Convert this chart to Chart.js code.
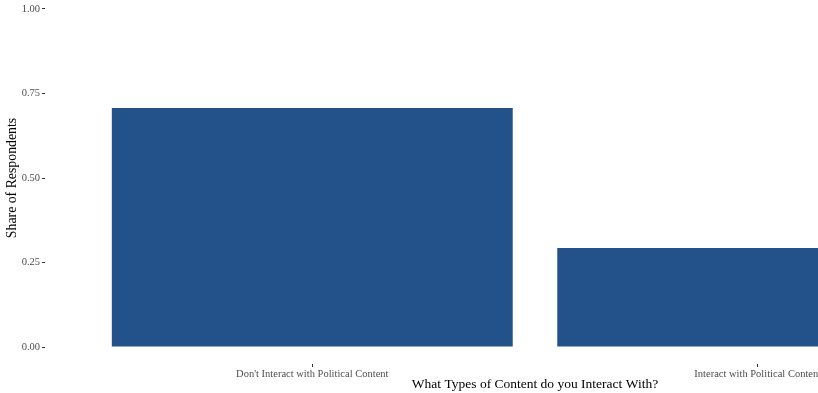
<!DOCTYPE html>
<html>
<head>
<meta charset="utf-8">
<script src="https://cdn.jsdelivr.net/npm/chart.js@4/dist/chart.umd.min.js"></script>
<style>
  html, body { margin: 0; padding: 0; background: #fff; overflow: hidden; }
  body { width: 818px; height: 393px; position: relative; }
  #wrap { position: absolute; left: 0; top: -8px; }
</style>
</head>
<body>
<div id="wrap"><canvas id="share-chart" width="1025" height="401"></canvas></div>
<script>
// Survey shares
const categories = ["Don't Interact with Political Content", "Interact with Political Content"];
const shares = [0.707, 0.293];
const catPositions = [1, 2];
const yTicks = [0, 0.25, 0.5, 0.75, 1];

const SERIF = "'Liberation Serif', 'Times New Roman', serif";
const BAR_COLOR = "#235189";

document.addEventListener("DOMContentLoaded", () => {
  const ctx = document.getElementById("share-chart").getContext("2d");

  new Chart(ctx, {
    type: "bar",
    data: {
      datasets: [{
        data: categories.map((c, i) => ({ x: catPositions[i], y: shares[i] })),
        backgroundColor: BAR_COLOR,
        borderWidth: 0,
        barPercentage: 0.9,
        categoryPercentage: 1
      }]
    },
    options: {
      responsive: false,
      devicePixelRatio: 1,
      animation: false,
      layout: { padding: 0 },
      plugins: {
        legend: { display: false },
        tooltip: { enabled: false }
      },
      scales: {
        x: {
          type: "linear",
          offset: false,
          min: 0.4,
          max: 2.6,
          afterBuildTicks: (scale) => { scale.ticks = catPositions.map(v => ({ value: v })); },
          afterFit: (scale) => {
            scale.height = 29;
            scale.paddingLeft = 0;
            scale.paddingRight = 0;
          },
          grid: { display: true, offset: false, drawOnChartArea: false, drawTicks: true, tickLength: 3, color: "#333" },
          border: { display: false },
          ticks: {
            autoSkip: false,
            maxRotation: 0,
            padding: 1,
            color: "#4d4d4d",
            font: { family: SERIF, size: 10.5 },
            callback: (v, i) => categories[i]
          },
          title: {
            display: true,
            text: "What Types of Content do you Interact With?",
            color: "#000",
            font: { family: SERIF, size: 13.5 },
            padding: { top: 0, bottom: 0 }
          }
        },
        y: {
          min: -0.05,
          max: 1.05,
          afterBuildTicks: (scale) => { scale.ticks = yTicks.map(v => ({ value: v })); },
          afterFit: (scale) => {
            scale.width = 45;
            scale.paddingTop = 0;
            scale.paddingBottom = 0;
          },
          grid: { display: true, drawOnChartArea: false, drawTicks: true, tickLength: 3, color: "#333" },
          border: { display: false },
          ticks: {
            padding: 2,
            color: "#4d4d4d",
            font: { family: SERIF, size: 10.5 },
            callback: (v) => Number(v).toFixed(2)
          },
          title: {
            display: true,
            text: "Share of Respondents",
            color: "#000",
            font: { family: SERIF, size: 13.8 },
            padding: { top: 4, bottom: 0 }
          }
        }
      }
    }
  });
});
</script>
</body>
</html>
